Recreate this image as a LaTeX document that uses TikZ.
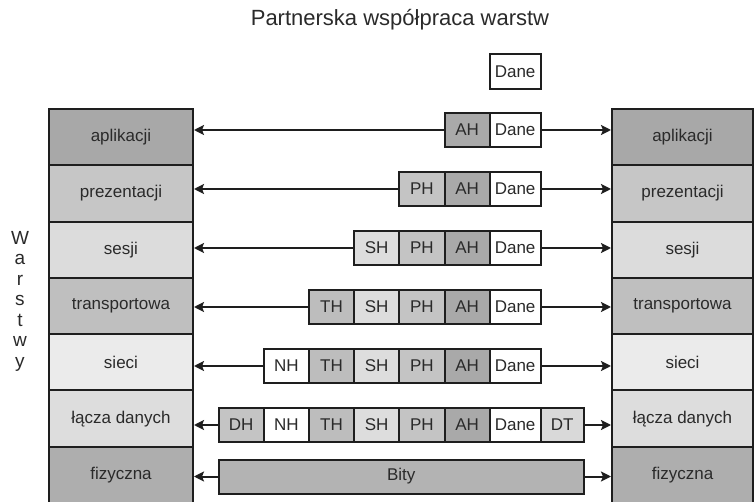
\documentclass[tikz,border=0pt]{standalone}
\usepackage{fontspec}
\setmainfont{Liberation Sans}
\usetikzlibrary{arrows.meta}
\definecolor{lc}{HTML}{1E1E1E}
\definecolor{tc}{HTML}{2A2A2A}
\definecolor{gApl}{HTML}{A8A8A8}
\definecolor{gPre}{HTML}{C6C6C6}
\definecolor{gSes}{HTML}{DCDCDC}
\definecolor{gTra}{HTML}{BFBFBF}
\definecolor{gSie}{HTML}{EBEBEB}
\definecolor{gLac}{HTML}{DDDDDD}
\definecolor{gFiz}{HTML}{AEAEAE}
\definecolor{cAH}{HTML}{A9A9A9}
\definecolor{cPH}{HTML}{C4C4C4}
\definecolor{cSH}{HTML}{DDDDDD}
\definecolor{cTH}{HTML}{BDBDBD}
\definecolor{cDH}{HTML}{C4C4C4}
\definecolor{cDT}{HTML}{D9D9D9}
\definecolor{cBi}{HTML}{B3B3B3}
\begin{document}
\begin{tikzpicture}[x=1pt,y=-1pt,
  layerbox/.style={draw=lc, line width=2pt, minimum height=56.3pt, inner sep=0pt,
    font=\fontsize{17}{19}\selectfont, text=tc},
  cellbox/.style={draw=lc, line width=2pt, minimum height=34pt, inner sep=0pt,
    font=\fontsize{17}{19}\selectfont, text=tc, anchor=west},
  conn/.style={draw=lc, line width=2pt, -{Stealth[length=10pt,width=10pt,inset=2pt]}}]
\useasboundingbox (0,0) rectangle (755,502);

\node[font=\fontsize{22}{24}\selectfont, text=tc] (title) at (400,20) {Partnerska współpraca warstw};
\node[font=\fontsize{19}{20.5}\selectfont, text=tc, align=center, inner sep=0pt] (warstwy) at (20,301)
  {W\\a\\r\\s\\t\\w\\y};

% layer stacks
\foreach \r/\lab/\col in {1/aplikacji/gApl, 2/prezentacji/gPre, 3/sesji/gSes,
   4/transportowa/gTra, 5/sieci/gSie, 6/łącza danych/gLac, 7/fizyczna/gFiz} {
  \pgfmathsetmacro{\yc}{109+(\r-0.5)*56.3}
  \node[layerbox, fill=\col, minimum width=144pt] (L\r) at (121,\yc) {\lab};
  \node[layerbox, fill=\col, minimum width=141pt] (R\r) at (682.5,\yc) {\lab};
}

% top data box
\node[cellbox, fill=white, minimum width=50.8pt, minimum height=35pt] (top) at (488.7,72) {Dane};

% packet rows
\foreach \r/\yy/\first in {1/130/6, 2/189/5, 3/248/4, 4/307/3, 5/366/2, 6/425/1} {
  \foreach \i/\lab/\col/\w in {1/DH/cDH/45.2, 2/NH/white/45.2, 3/TH/cTH/45.2, 4/SH/cSH/45.2,
      5/PH/cPH/45.2, 6/AH/cAH/45.2, 7/Dane/white/50.8} {
    \ifnum\i<\first\relax\else
      \pgfmathsetmacro{\xl}{217.5+(\i-1)*45.2}
      \node[cellbox, fill=\col, minimum width=\w pt] (c\r-\i) at (\xl,\yy) {\lab};
    \fi
  }
}
\node[cellbox, fill=cDT, minimum width=43.5pt] (c6-8) at (539.5,425) {DT};
\node[cellbox, fill=cBi, minimum width=365.5pt] (c7-1) at (217.5,476.5) {Bity};

% connectors
\foreach \r/\first/\last in {1/6/7, 2/5/7, 3/4/7, 4/3/7, 5/2/7, 6/1/8, 7/1/1} {
  \draw[conn] (c\r-\first.west) -- (c\r-\first.west -| L\r.east);
  \draw[conn] (c\r-\last.east) -- (c\r-\last.east -| R\r.west);
}
\end{tikzpicture}
\end{document}
